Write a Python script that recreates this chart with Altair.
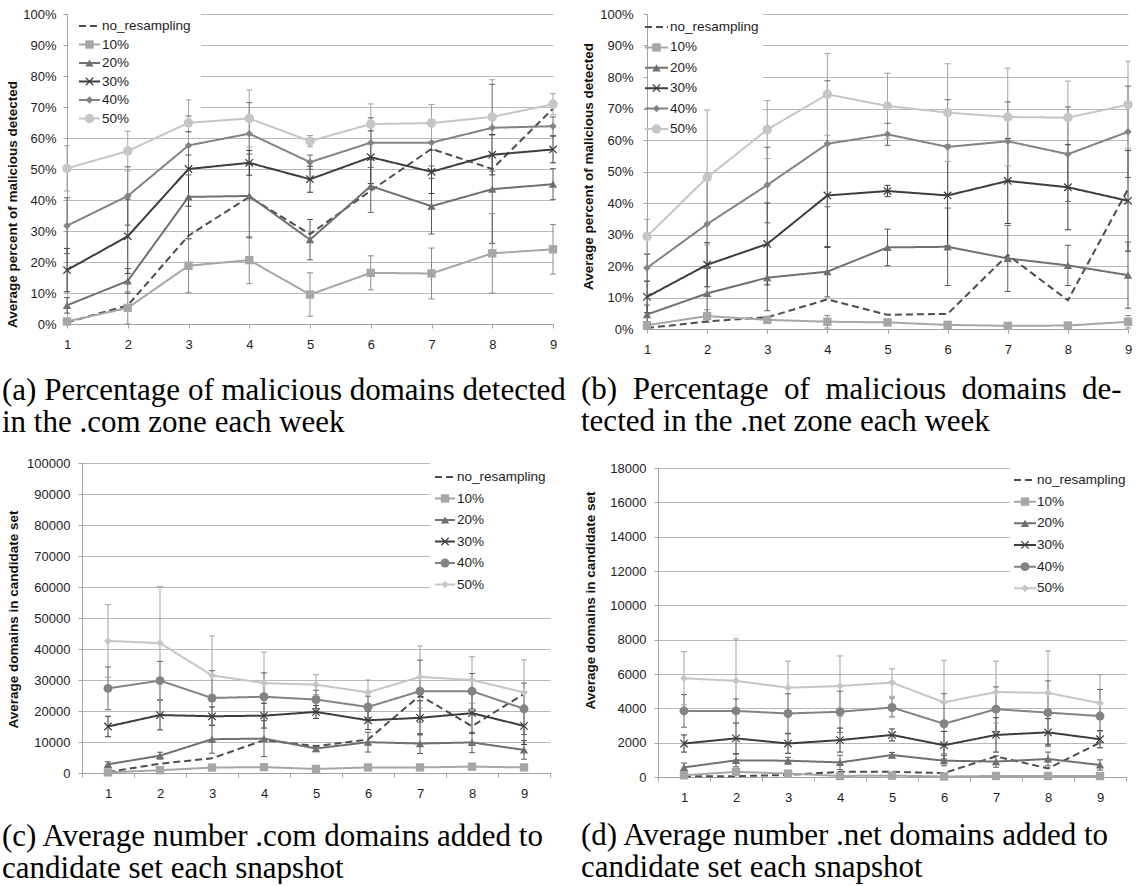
import altair as alt
import pandas as pd

WEEKS = [1, 2, 3, 4, 5, 6, 7, 8, 9]
SERIES = ["no_resampling", "10%", "20%", "30%", "40%", "50%"]
COLORS = ["#4d4d4d", "#a6a6a6", "#707070", "#3d3d3d", "#838383", "#c6c6c6"]
ERR_COLORS = ["#4d4d4d", "#8c8c8c", "#5c5c5c", "#3a3a3a", "#666666", "#a3a3a3"]
DASHES = [[7, 4], [1, 0], [1, 0], [1, 0], [1, 0], [1, 0]]

# ---------- (a) .com percent detected ----------
A_NORES = [0.5, 6.0, 28.5, 41.0, 29.0, 43.0, 56.5, 50.0, 69.5]
A_10 = [0.8, 5.2, 18.8, 20.6, 9.5, 16.5, 16.3, 22.8, 24.1]
A_20 = [6.0, 13.9, 41.0, 41.3, 27.2, 44.5, 38.0, 43.5, 45.1]
A_30 = [17.4, 28.3, 50.0, 52.0, 46.7, 53.8, 49.1, 54.6, 56.3]
A_40 = [31.7, 41.3, 57.6, 61.4, 52.2, 58.5, 58.5, 63.3, 63.8]
A_50 = [50.2, 55.8, 64.9, 66.3, 59.0, 64.5, 64.8, 66.8, 70.9]
A_10_ERR = [1.0, 5.2, 8.7, 7.6, 7.0, 5.5, 8.2, 12.8, 8.0]
A_20_ERR = [2.5, 4.0, 13.5, 13.5, 6.5, 8.5, 9.0, 17.5, 5.0]
A_30_ERR = [7.0, 12.0, 12.0, 4.0, 4.2, 8.5, 7.0, 6.5, 4.3]
A_40_ERR = [9.0, 9.4, 9.5, 10.0, 2.3, 8.0, 7.5, 14.0, 3.0]
A_50_ERR = [7.3, 6.4, 7.4, 9.2, 1.8, 6.5, 6.0, 12.0, 3.4]

# ---------- (b) .net percent detected ----------
B_NORES = [0.3, 2.4, 3.7, 9.4, 4.5, 4.8, 23.5, 9.1, 44.4]
B_10 = [1.2, 4.1, 2.9, 2.3, 2.1, 1.3, 1.0, 1.1, 2.3]
B_20 = [4.6, 11.3, 16.3, 18.2, 25.9, 26.1, 22.4, 20.2, 17.1]
B_30 = [10.2, 20.4, 27.0, 42.4, 43.8, 42.4, 47.0, 45.0, 40.7]
B_40 = [19.4, 33.3, 45.7, 58.8, 61.8, 57.8, 59.6, 55.5, 62.6]
B_50 = [29.4, 48.1, 63.3, 74.5, 70.8, 68.7, 67.3, 67.1, 71.2]
B_10_ERR = [1.0, 2.0, 1.0, 2.0, 1.0, 1.0, 0.8, 0.8, 2.0]
B_20_ERR = [3.0, 8.0, 10.5, 8.0, 5.8, 12.3, 10.5, 6.4, 10.5]
B_30_ERR = [5.0, 7.0, 13.0, 16.5, 1.8, 16.0, 13.5, 13.5, 16.0]
B_40_ERR = [4.3, 14.0, 12.0, 20.0, 3.5, 15.0, 12.5, 15.0, 14.5]
B_50_ERR = [5.4, 21.4, 9.2, 13.0, 10.4, 15.5, 15.5, 11.6, 13.8]

# ---------- (c) .com candidate set size ----------
C_NORES = [300, 3000, 4750, 10600, 8650, 10800, 25000, 15100, 25500]
C_10 = [200, 900, 1750, 1900, 1300, 1800, 1800, 2050, 1800]
C_20 = [2800, 5600, 10900, 11100, 7900, 9950, 9500, 9850, 7450]
C_30 = [15000, 18700, 18300, 18500, 19700, 17000, 17800, 19300, 15200]
C_40 = [27300, 29800, 24200, 24600, 23700, 21300, 26400, 26400, 20700]
C_50 = [42600, 41900, 31500, 29000, 28500, 26000, 31000, 30000, 26000]
C_10_ERR = [200, 400, 400, 400, 300, 300, 300, 400, 300]
C_20_ERR = [800, 1100, 4500, 5800, 1000, 3200, 3200, 3300, 3000]
C_30_ERR = [3300, 4800, 3000, 4000, 2100, 3000, 5500, 6500, 6000]
C_40_ERR = [6900, 6200, 8800, 7700, 3000, 3500, 10000, 5700, 8300]
C_50_ERR = [11700, 18300, 12700, 10000, 3200, 4000, 10000, 7500, 10500]

# ---------- (d) .net candidate set size ----------
D_NORES = [50, 50, 120, 300, 300, 230, 1200, 500, 2000]
D_10 = [100, 300, 200, 60, 80, 30, 60, 60, 50]
D_20 = [560, 970, 950, 850, 1280, 950, 900, 1050, 700]
D_30 = [1950, 2250, 1950, 2150, 2450, 1850, 2450, 2600, 2200]
D_40 = [3850, 3850, 3700, 3800, 4050, 3100, 3950, 3750, 3550]
D_50 = [5750, 5600, 5200, 5300, 5500, 4350, 4950, 4900, 4300]
D_10_ERR = [50, 100, 80, 50, 50, 30, 50, 50, 50]
D_20_ERR = [250, 380, 200, 420, 150, 300, 330, 400, 300]
D_30_ERR = [500, 900, 570, 700, 350, 800, 1000, 800, 500]
D_40_ERR = [950, 700, 1150, 1200, 550, 1750, 1300, 1850, 1550]
D_50_ERR = [1550, 2450, 1550, 1750, 800, 2450, 1800, 2450, 1650]

X_PATH = "M-1,-1L1,1M-1,1L1,-1"
SHAPES_TOP = {"10%": ("square", 70), "20%": ("triangle-up", 70), "30%": (X_PATH, 55),
              "40%": ("diamond", 55), "50%": ("circle", 90)}
SHAPES_BOT = {"10%": ("square", 70), "20%": ("triangle-up", 70), "30%": (X_PATH, 55),
              "40%": ("circle", 80), "50%": ("diamond", 60)}

SANS = "Liberation Sans"
SERIF = "Liberation Serif"
TXT = "#1e1e1e"
AXC = "#a3a3a3"


def build_frame(means, errs):
    rows = []
    for s, m, e in zip(SERIES, means, errs):
        for i, w in enumerate(WEEKS):
            d = None if e is None else e[i]
            rows.append({
                "series": s, "week": w, "mean": m[i],
                "lo": None if d is None else max(m[i] - d, 0),
                "hi": None if d is None else m[i] + d,
            })
    return pd.DataFrame(rows)


def panel(means, errs, shapes, ymax, ystep, pct, y_title, title_y, title_pad, label_pad,
          width, height, x_range, y_range, axis_off, band, caption, cap_dx, cap_off,
          leg_rows, leg_line, leg_mark, leg_text, leg_box):
    df = build_frame(means, errs)
    err_df = df.dropna(subset=["lo"])

    yaxis = alt.Axis(
        values=list(range(0, ymax + 1, ystep)),
        labelExpr="datum.value + '%'" if pct else "format(datum.value, 'd')",
        grid=True, gridColor="#b9b9b9", gridWidth=1, offset=axis_off,
        domain=True, domainColor=AXC, ticks=True, tickColor=AXC, tickSize=4,
        labelFont=SANS, labelFontSize=13, labelColor=TXT, labelPadding=label_pad,
        title=y_title, titleFont=SANS, titleFontSize=13.5, titleFontWeight="bold",
        titleColor="#111111", titlePadding=title_pad, titleY=title_y,
    )
    yscale = alt.Scale(domain=[0, ymax], range=y_range, nice=False, zero=True)

    if band:
        def xenc():
            return alt.X(
                "week:O",
                scale=alt.Scale(type="band", range=x_range, paddingInner=0, paddingOuter=0),
                axis=alt.Axis(labelAngle=0, tickBand="extent", grid=False, domainColor=AXC,
                              tickColor=AXC, tickSize=4, labelFont=SANS, labelFontSize=13,
                              labelColor=TXT, labelPadding=10, title=None))
    else:
        def xenc():
            return alt.X(
                "week:Q", scale=alt.Scale(domain=[1, 9], range=x_range, nice=False, zero=False),
                axis=alt.Axis(values=WEEKS, format="d", grid=False, domainColor=AXC,
                              tickColor=AXC, tickSize=4, labelFont=SANS, labelFontSize=13,
                              labelColor=TXT, labelPadding=10, labelFlush=False,
                              labelOverlap=False, title=None))

    color = alt.Color("series:N", scale=alt.Scale(domain=SERIES, range=COLORS), legend=None)
    err_color = alt.Stroke("series:N", scale=alt.Scale(domain=SERIES, range=ERR_COLORS),
                           legend=None)
    dash = alt.StrokeDash("series:N", scale=alt.Scale(domain=SERIES, range=DASHES), legend=None)

    rules = alt.Chart(err_df).mark_rule(strokeWidth=1).encode(
        x=xenc(), y=alt.Y("lo:Q", scale=yscale, axis=yaxis), y2="hi:Q", stroke=err_color)

    caps = alt.Chart(err_df).transform_fold(["lo", "hi"], as_=["end", "val"]).mark_point(
        shape="stroke", size=36, filled=False, strokeWidth=1, opacity=1).encode(
        x=xenc(), y=alt.Y("val:Q", scale=yscale, axis=yaxis), stroke=err_color)

    lines = alt.Chart(df).mark_line(strokeWidth=2).encode(
        x=xenc(), y=alt.Y("mean:Q", scale=yscale, axis=yaxis), color=color,
        strokeDash=dash, order="week:Q")

    data_layers = [rules, caps, lines]
    for s in SERIES[1:]:
        shp, size = shapes[s]
        is_x = shp == X_PATH
        pts = alt.Chart(df).transform_filter(alt.datum.series == s).mark_point(
            shape=shp, size=size, filled=not is_x, opacity=1,
            strokeWidth=1.2 if is_x else 0).encode(
            x=xenc(), y=alt.Y("mean:Q", scale=yscale, axis=yaxis), color=color)
        data_layers.append(pts)
    data = alt.layer(*data_layers)

    # ----- legend drawn as marks, rows placed through a dedicated index scale -----
    ldf = pd.DataFrame({"series": SERIES, "idx": list(range(len(SERIES)))})
    ly = alt.Y("idx:Q", scale=alt.Scale(domain=[0, len(SERIES) - 1], range=leg_rows), axis=None)
    bx0, bx1, by0, by1 = leg_box
    box = alt.Chart(ldf).transform_filter("datum.idx == 0").mark_rect(
        fill="white").encode(
        x=alt.value(bx0), x2=alt.value(bx1), y=alt.value(by0), y2=alt.value(by1))
    lline = alt.Chart(ldf).mark_rule(strokeWidth=2).encode(
        x=alt.value(leg_line[0]), x2=alt.value(leg_line[1]), y=ly, color=color, strokeDash=dash)
    marks = []
    for s in SERIES[1:]:
        shp, size = shapes[s]
        is_x = shp == X_PATH
        marks.append(alt.Chart(ldf).transform_filter(alt.datum.series == s).mark_point(
            shape=shp, size=size, filled=not is_x, opacity=1,
            strokeWidth=1.2 if is_x else 0).encode(x=alt.value(leg_mark), y=ly, color=color))
    ltext = alt.Chart(ldf).mark_text(
        align="left", baseline="middle", font=SANS, fontSize=13.5, color=TXT).encode(
        x=alt.value(leg_text), y=ly, text="series:N")
    legend = alt.layer(lline, *marks, ltext)

    return alt.layer(box, data, legend).resolve_scale(y="independent").properties(
        width=width, height=height,
        title=alt.TitleParams(
            text=caption, orient="bottom", anchor="start", frame="group", dx=cap_dx,
            offset=cap_off, font=SERIF, fontSize=31, fontWeight="normal", color="#000000",
            baseline="top", lineHeight=32))


NB = "\u00a0"
chart_a = panel([A_NORES, A_10, A_20, A_30, A_40, A_50],
                [None, A_10_ERR, A_20_ERR, A_30_ERR, A_40_ERR, A_50_ERR],
                SHAPES_TOP, 100, 10, True, "Average percent of malicious detected",
                190, 3, 7, 486, 310, [0, 486], [310, 0], 0, False,
                ["(a) Percentage of malicious domains detected", "in the .com zone each week"],
                -65, 25,
                [12, 104.5], (12, 33), 22.5, 35, (1, 134, -1, 107))
chart_b = panel([B_NORES, B_10, B_20, B_30, B_40, B_50],
                [None, B_10_ERR, B_20_ERR, B_30_ERR, B_40_ERR, B_50_ERR],
                SHAPES_TOP, 100, 10, True, "Average percent of malicious detected",
                152, 4, 10, 481, 315, [0, 481], [315, 0], 0, False,
                ["(b)" + NB + " Percentage" + NB + " of" + NB + " malicious" + NB + " domains" + NB + " de-",
                 "tected in the .net zone each week"],
                -66, 19,
                [13, 115], (-2, 21), 9.5, 23, (1, 116, -1, 124))
chart_c = panel([C_NORES, C_10, C_20, C_30, C_40, C_50],
                [None, C_10_ERR, C_20_ERR, C_30_ERR, C_40_ERR, C_50_ERR],
                SHAPES_BOT, 100000, 10000, False, "Average domains in candidate set",
                156, 6, 8, 483, 310, [15, 483], [310, 0], -15, True,
                ["(c) Average number .com domains added to", "candidate set each snapshot"],
                -65, 22,
                [14, 121.5], (368, 388), 378, 390, (363, 484, -1, 131))
chart_d = panel([D_NORES, D_10, D_20, D_30, D_40, D_50],
                [None, D_10_ERR, D_20_ERR, D_30_ERR, D_40_ERR, D_50_ERR],
                SHAPES_BOT, 18000, 2000, False, "Average domains in candidate set",
                137, 12, 8, 479, 314, [11, 479], [314, 5], -11, True,
                ["(d) Average number .net domains added to", "candidate set each snapshot"],
                -66, 17,
                [17, 125.3], (367, 389), 378, 390, (363, 480, 4, 135))

chart = alt.concat(chart_a, chart_b, chart_c, chart_d, columns=2, bounds="flush",
                   spacing={"row": 134, "column": 94}).properties(
    padding={"left": 2, "top": 8, "right": 0, "bottom": 0},
    background="white",
).configure_view(stroke=None)

chart.save("out.html", embed_options={"renderer": "svg", "actions": False})
